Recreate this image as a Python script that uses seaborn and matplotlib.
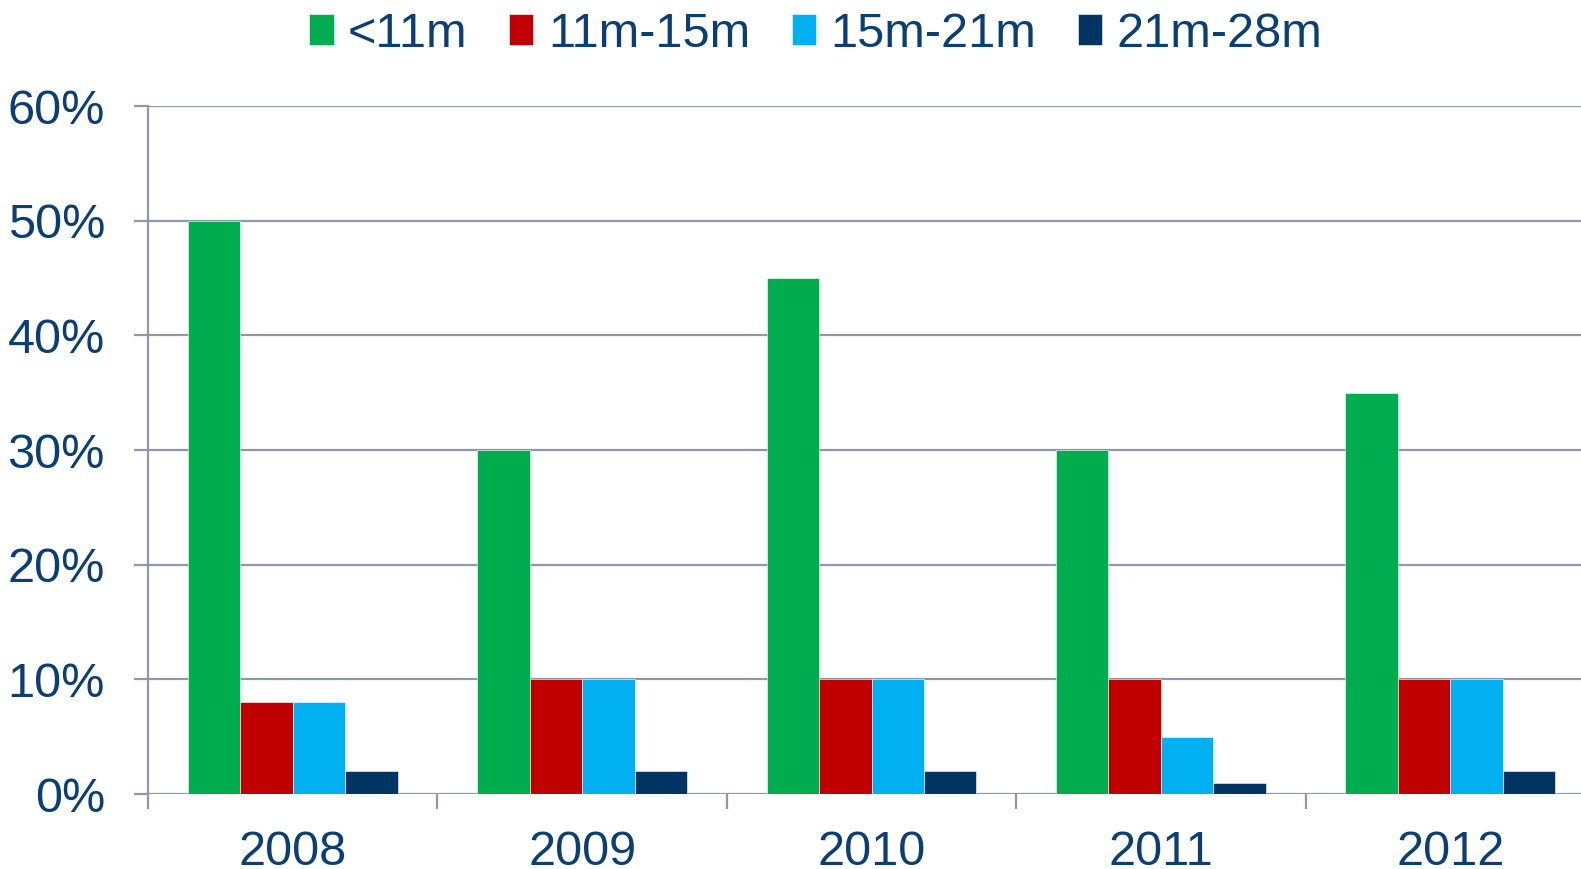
import pandas
import seaborn as sns
import matplotlib.pyplot as plt
from matplotlib.ticker import FixedLocator, PercentFormatter

years = ['2008', '2009', '2010', '2011', '2012']
bands = ['<11m', '11m-15m', '15m-21m', '21m-28m']
share_lt11 = [50, 30, 45, 30, 35]
share_11_15 = [8, 10, 10, 10, 10]
share_15_21 = [8, 10, 10, 5, 10]
share_21_28 = [2, 2, 2, 1, 2]
colours = ['#00AD4E', '#C00000', '#00B0F0', '#003462']
text_col = '#0B3F73'
grid_col = '#8F98AB'

rows = []
for band, vals in zip(bands, (share_lt11, share_11_15, share_15_21, share_21_28)):
    for yr, v in zip(years, vals):
        rows.append({'year': yr, 'band': band, 'share': v})
df = pandas.DataFrame(rows)

sns.set_style('white')
plt.rcParams['font.family'] = ['Liberation Sans', 'DejaVu Sans']

f = plt.figure(figsize=(15.81, 8.69), dpi=100)
ax = f.add_axes([148 / 1581, 1 - 794 / 869, 1447 / 1581, (794 - 106) / 869])

sns.barplot(data=df, x='year', y='share', hue='band', hue_order=bands,
            palette=colours, width=0.725, gap=0, saturation=1,
            edgecolor='white', linewidth=0.4, ax=ax, zorder=3)

ax.set_ylim(0, 60)
ax.set_xlim(-0.5, 4.5)
ax.set_yticks(range(0, 61, 10))
ax.yaxis.set_major_formatter(PercentFormatter(decimals=0))
ax.grid(axis='y', color=grid_col, lw=1.6, zorder=0)
ax.set_axisbelow(True)

for s in ('top', 'right', 'bottom'):
    ax.spines[s].set_visible(False)
ax.spines['left'].set_color(grid_col)
ax.spines['left'].set_linewidth(1.6)

ax.tick_params(axis='y', length=10, width=1.6, color=grid_col, pad=21,
               labelsize=35, labelcolor=text_col, left=True)
ax.tick_params(axis='x', which='major', length=0, pad=26, labelsize=35, labelcolor=text_col)
ax.xaxis.set_minor_locator(FixedLocator([-0.5, 0.5, 1.5, 2.5, 3.5]))
ax.tick_params(axis='x', which='minor', length=11, width=1.6, color=grid_col, bottom=True)
ax.set_xlabel('')
ax.set_ylabel('')

handles, labels = ax.get_legend_handles_labels()
ax.legend_.remove()
f.legend(handles, labels, loc='upper center', bbox_to_anchor=(0.516, 1.037), ncol=4,
         frameon=False, fontsize=35, labelcolor=text_col, handlelength=0.5,
         handleheight=0.6, handletextpad=0.3, columnspacing=0.85)

f.savefig('out.png', dpi=100)
